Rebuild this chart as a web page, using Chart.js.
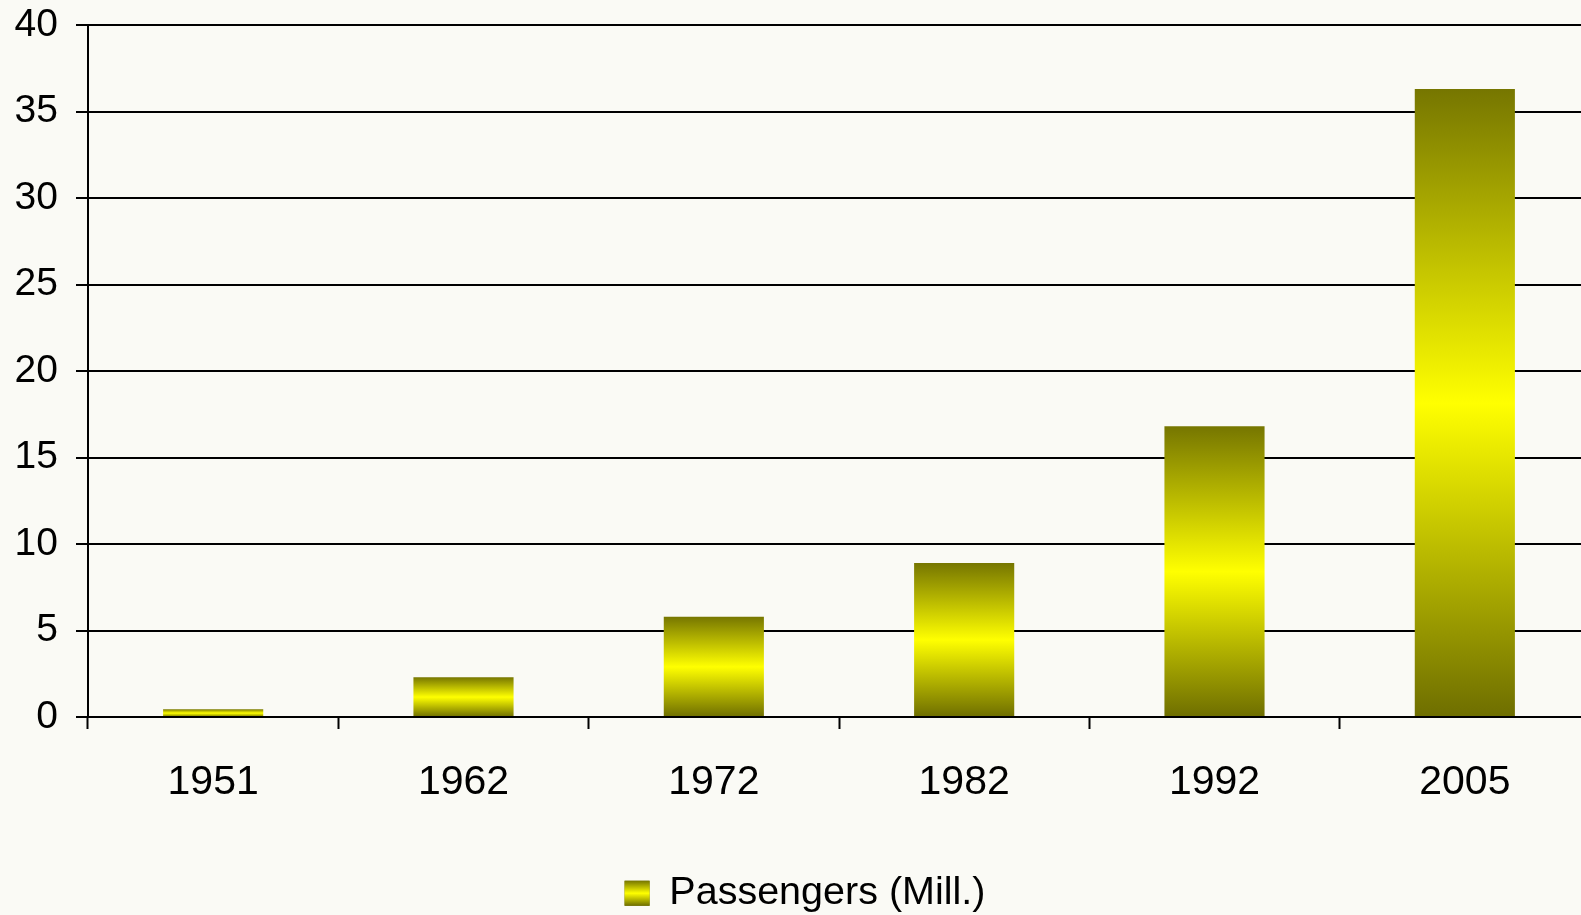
<!DOCTYPE html>
<html>
<head>
<meta charset="utf-8">
<script src="https://cdn.jsdelivr.net/npm/chart.js@4"></script>
<style>
  html, body { margin: 0; padding: 0; background: #fafaf5; overflow: hidden; }
  #wrap { width: 1590px; height: 923px; }
</style>
</head>
<body>
<div id="wrap"><canvas id="chart"></canvas></div>
<script>
const years = ['1951', '1962', '1972', '1982', '1992', '2005'];
const passengers = [0.45, 2.3, 5.8, 8.9, 16.8, 36.3];
const seriesLabel = 'Passengers (Mill.)';

const OLIVE_TOP = '#767600';
const YELLOW = '#ffff00';
const OLIVE_BOTTOM = '#6e6e00';

function barGradient(c, top, bottom) {
    const g = c.createLinearGradient(0, top, 0, bottom);
    g.addColorStop(0, OLIVE_TOP);
    g.addColorStop(0.5, YELLOW);
    g.addColorStop(1, OLIVE_BOTTOM);
    return g;
}

// nudge the legend a bit right, like the original
const legendNudge = {
    id: 'legendNudge',
    afterLayout(chart) {
        if (!chart.legend) return;
        chart.legend.left += 10;
        chart.legend.right += 10;
    }
};

// legend swatch gets the same gradient as the bars
const legendSwatch = {
    id: 'legendSwatch',
    afterDraw(chart) {
        const lg = chart.legend;
        if (!lg || !lg.legendHitBoxes.length) return;
        const hb = lg.legendHitBoxes[0];
        const lo = lg.options.labels;
        const top = hb.top + Math.max((lo.font.size - lo.boxHeight) / 2, 0);
        const c = chart.ctx;
        c.save();
        c.fillStyle = barGradient(c, top, top + lo.boxHeight);
        c.fillRect(hb.left, top, lo.boxWidth, lo.boxHeight);
        c.restore();
    }
};

new Chart(document.getElementById('chart'), {
    type: 'bar',
    data: {
        labels: years,
        datasets: [{
            label: seriesLabel,
            data: passengers,
            barPercentage: 0.4,
            categoryPercentage: 1,
            backgroundColor: (ctx) => {
                const chart = ctx.chart;
                if (!chart.chartArea || ctx.type !== 'data') return OLIVE_TOP;
                const y = chart.scales.y;
                return barGradient(chart.ctx, y.getPixelForValue(ctx.parsed.y), y.getPixelForValue(0));
            }
        }]
    },
    options: {
        responsive: true,
        maintainAspectRatio: false,
        animation: false,
        layout: { padding: { top: 25, left: 0, right: 0, bottom: 0 } },
        scales: {
            x: {
                afterFit: (scale) => { scale.height = 146.5; },
                grid: {
                    offset: true,
                    drawOnChartArea: false,
                    tickLength: 12,
                    tickWidth: 2,
                    tickColor: '#000'
                },
                border: { color: '#000', width: 2 },
                ticks: {
                    color: '#000',
                    padding: 29.5,
                    font: { family: "'Liberation Sans', Arial, sans-serif", size: 41 }
                }
            },
            y: {
                min: 0,
                max: 40,
                afterFit: (scale) => {
                    scale.width = 88;
                    scale.paddingTop = 0;
                    scale.paddingBottom = 0;
                },
                grid: {
                    color: '#000',
                    lineWidth: 2,
                    tickLength: 12
                },
                border: { color: '#000', width: 2 },
                ticks: {
                    stepSize: 5,
                    color: '#000',
                    padding: 18,
                    font: { family: "'Liberation Sans', Arial, sans-serif", size: 39 }
                }
            }
        },
        plugins: {
            tooltip: { enabled: false },
            legend: {
                position: 'bottom',
                labels: {
                    boxWidth: 25,
                    boxHeight: 25,
                    padding: 10,
                    color: '#000',
                    font: { family: "'Liberation Sans', Arial, sans-serif", size: 39.5 }
                }
            }
        }
    },
    plugins: [legendNudge, legendSwatch]
});
</script>
</body>
</html>
